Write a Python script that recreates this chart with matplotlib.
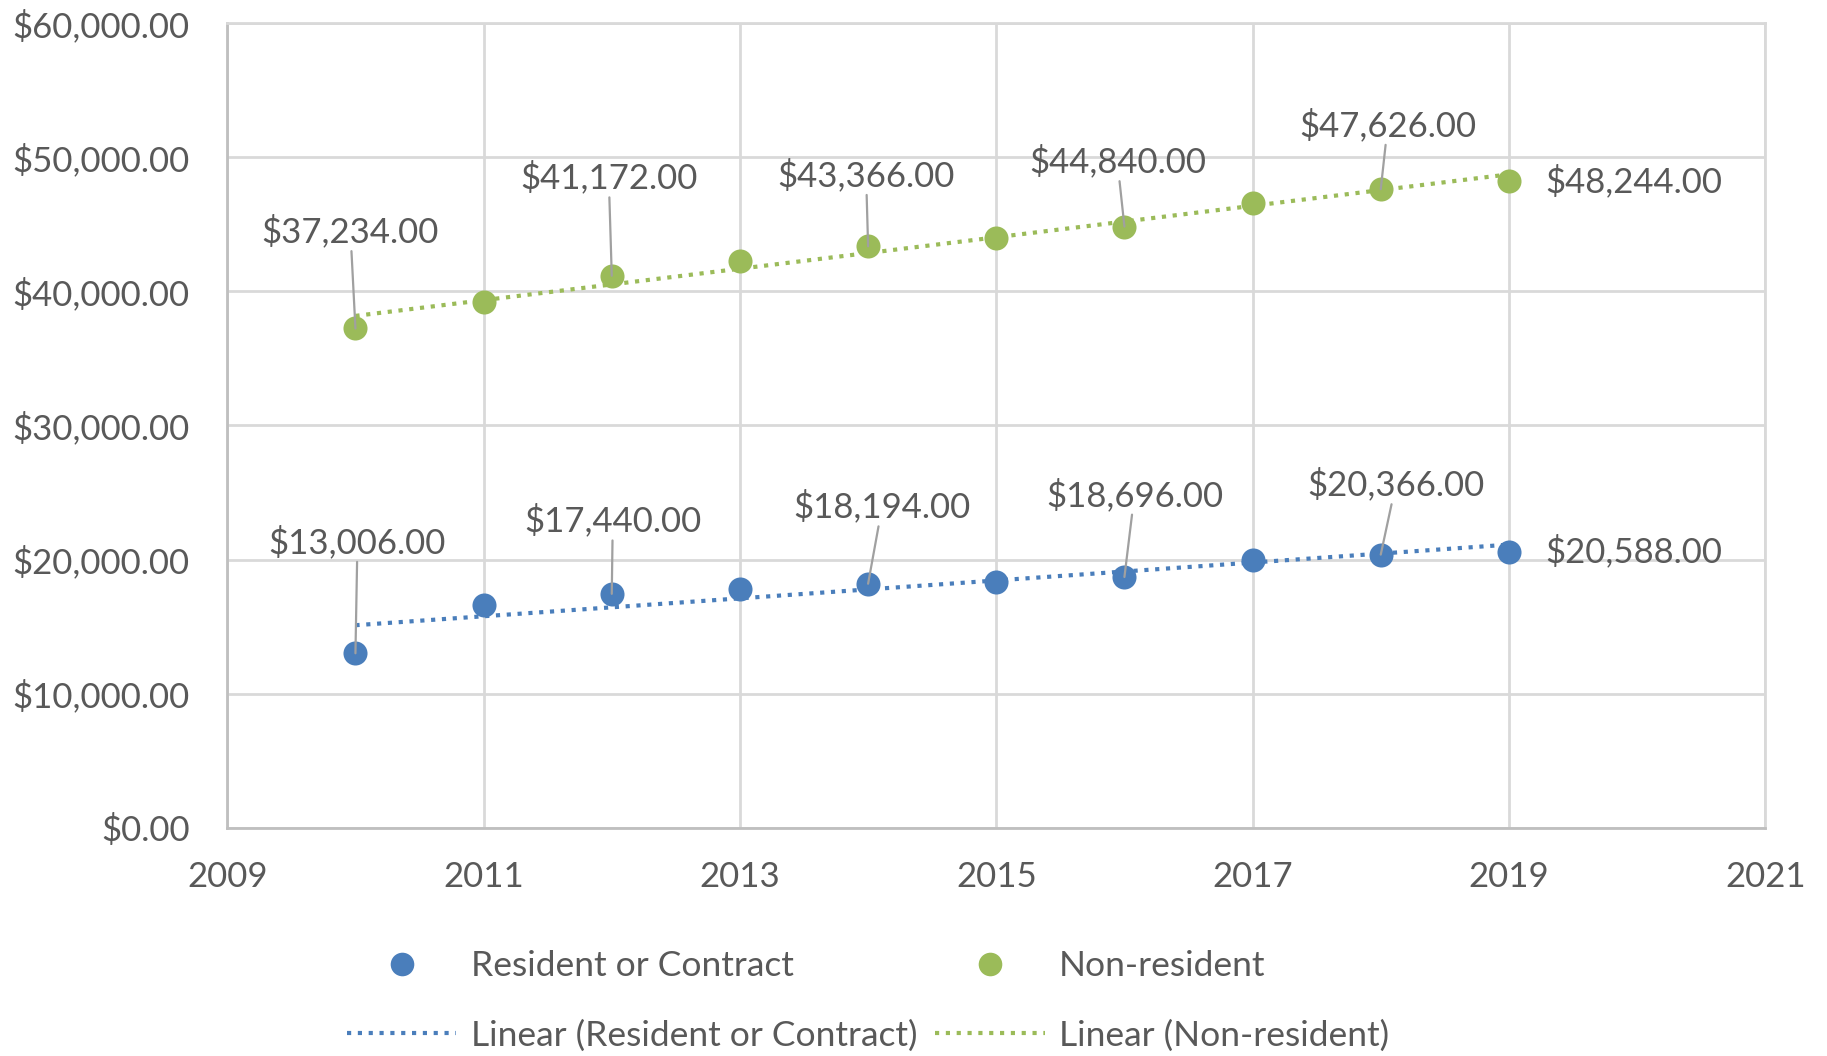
import numpy as np
import matplotlib.pyplot as plt
from matplotlib.lines import Line2D

plt.rcParams['font.family'] = ['Lato', 'DejaVu Sans']

years = [2010, 2011, 2012, 2013, 2014, 2015, 2016, 2017, 2018, 2019]
resident = [13006, 16600, 17440, 17800, 18194, 18350, 18696, 20000, 20366, 20588]
non_resident = [37234, 39200, 41172, 42260, 43366, 44000, 44840, 46600, 47626, 48244]

# which points get a data label, and where the label sits (offset in pixels)
res_labels = {2010: (2, 111), 2012: (1, 73), 2014: (14, 77), 2016: (10, 82), 2018: (15, 70), 2019: None}
non_labels = {2010: (-5, 97), 2012: (-3, 98), 2014: (-2, 71), 2016: (-7, 65), 2018: (7, 64), 2019: None}

blue = "#4a7ebb"
green = "#9bbb59"
text_col = "#595959"
grid_col = "#d9d9d9"

fig = plt.figure(figsize=(18.27, 10.56), dpi=100)
ax = fig.add_axes([0.1244, 0.2163, 0.8418, 0.7616])

x = np.array(years)
for vals, col, labels in [(resident, blue, res_labels), (non_resident, green, non_labels)]:
    vals = np.array(vals)
    ax.scatter(x, vals, s=300, color=col, zorder=3, linewidths=0)
    k, b = np.polyfit(x, vals, 1)
    ax.plot(x, k * x + b, color=col, lw=3, linestyle=(0, (1, 1.6)), zorder=4)
    for yr, off in labels.items():
        v = vals[years.index(yr)]
        txt = f"${v:,.2f}"
        if off is None:
            ax.annotate(txt, (yr, v), xytext=(36, 0), textcoords='offset pixels',
                        ha='left', va='center', fontsize=25, color=text_col, zorder=6)
        else:
            ax.annotate(txt, (yr, v), xytext=off, textcoords='offset pixels',
                        ha='center', va='center', fontsize=25, color=text_col, zorder=6,
                        arrowprops=dict(arrowstyle='-', color='#a0a0a0', lw=1.6,
                                        shrinkA=0, shrinkB=0))

ax.set_xlim(2009, 2021)
ax.set_ylim(0, 60000)
ax.set_xticks(range(2009, 2022, 2))
ax.set_yticks(range(0, 60001, 10000))
ax.yaxis.set_major_formatter(plt.FuncFormatter(lambda v, p: f"${v:,.2f}"))
ax.tick_params(length=0, labelsize=25, labelcolor=text_col, pad=27)
ax.tick_params(axis='x', pad=24)
ax.grid(True, color=grid_col, lw=2)
ax.set_axisbelow(True)
for s in ['top', 'right']:
    ax.spines[s].set_color(grid_col)
    ax.spines[s].set_linewidth(2)
for s in ['left', 'bottom']:
    ax.spines[s].set_color("#bfbfbf")
    ax.spines[s].set_linewidth(2)

handles = [
    Line2D([], [], marker='o', ls='none', color=blue, markersize=17, markeredgewidth=0),
    Line2D([], [], color=blue, lw=3, linestyle=(0, (1, 1.6))),
    Line2D([], [], marker='o', ls='none', color=green, markersize=17, markeredgewidth=0),
    Line2D([], [], color=green, lw=3, linestyle=(0, (1, 1.6))),
]
names = ["Resident or Contract", "Linear (Resident or Contract)",
         "Non-resident", "Linear (Non-resident)"]
fig.legend(handles, names, ncol=2, loc='center', bbox_to_anchor=(0.475, 0.052),
           frameon=False, fontsize=25.5, labelcolor=text_col, handlelength=3.1,
           handletextpad=0.4, columnspacing=0.5, labelspacing=1.05)

fig.savefig("out.png", dpi=100)
